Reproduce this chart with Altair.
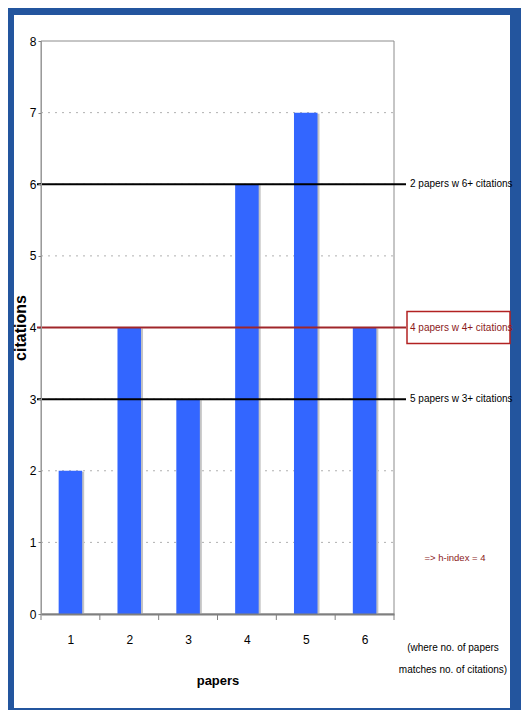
import altair as alt
import pandas as pd

# ---- data ----
papers = [1, 2, 3, 4, 5, 6]
citations = [2, 4, 3, 6, 7, 4]
y_ticks = [0, 1, 2, 3, 4, 5, 6, 7, 8]
grid_values = [1, 2, 3, 4, 5, 6, 7]
thresholds = [6, 4, 3]
threshold_labels = ["2 papers w 6+ citations", "4 papers w 4+ citations", "5 papers w 3+ citations"]
h_index = 4
note_text = "=> h-index = 4"
note_lines = "(where no. of papers\nmatches no. of citations)"

W, H = 353, 573
FONT = "Liberation Sans, Arial, sans-serif"
BLUE_FRAME = "#23559e"
BAR = "#3366ff"
RED = "#a0262a"

bars_df = pd.DataFrame({"paper": papers, "citations": citations})
grid_df = pd.DataFrame({"citations": grid_values})
thr_df = pd.DataFrame({"citations": thresholds, "label": threshold_labels})
bounds_df = pd.DataFrame({"b": [p - 0.5 for p in papers] + [papers[-1] + 0.5]})
one = pd.DataFrame({"k": [0]})

x_scale = alt.Scale(domain=[papers[0] - 0.5, papers[-1] + 0.5], nice=False, zero=False)
y_scale = alt.Scale(domain=[y_ticks[0], y_ticks[-1]], nice=False)

x_axis = alt.Axis(values=papers, ticks=False, grid=False, domainColor="#7f7f7f", domainWidth=2,
                  labelFont=FONT, labelFontSize=12, labelColor="black", labelPadding=20, labelFlush=False,
                  title="papers", titleFont=FONT, titleFontSize=13, titleFontWeight="bold",
                  titleColor="black", titleY=66, titleBaseline="middle", zindex=1)
y_axis = alt.Axis(values=y_ticks, grid=False, tickSize=3, tickColor="#7f7f7f", domainColor="#9a9a9a",
                  labelFont=FONT, labelFontSize=12, labelColor="black", labelPadding=2,
                  title="citations", titleFont=FONT, titleFontSize=16,
                  titleFontWeight="bold", titleColor="black", titleAngle=270, titleX=-21, titleY=H / 2,
                  titleBaseline="middle", zindex=1)

# white inner panel of the blue frame
panel = alt.Chart(one).mark_rect(color="white").encode(
    x=alt.value(-27), x2=alt.value(469), y=alt.value(-26), y2=alt.value(667))

grid = alt.Chart(grid_df).mark_rule(color="#b0b0b0", strokeWidth=1, strokeDash=[2, 5]).encode(
    y=alt.Y("citations:Q", scale=y_scale, axis=y_axis), x=alt.value(0), x2=alt.value(W))

frame = alt.Chart(one).mark_rect(fill="transparent", stroke="#8c8c8c", strokeWidth=1).encode(
    x=alt.value(0), x2=alt.value(W), y=alt.value(0), y2=alt.value(H))

base_bars = alt.Chart(bars_df).transform_calculate(
    x0="datum.paper - 0.2", x1="datum.paper + 0.2")

shadow = base_bars.mark_bar(color="#c4c4c4", xOffset=2, x2Offset=2, yOffset=1).encode(
    x=alt.X("x0:Q", scale=x_scale, axis=x_axis), x2="x1:Q",
    y=alt.Y("citations:Q", scale=y_scale, axis=y_axis), y2=alt.datum(0))

bars = base_bars.mark_bar(color=BAR).encode(
    x=alt.X("x0:Q", scale=x_scale, axis=x_axis), x2="x1:Q",
    y=alt.Y("citations:Q", scale=y_scale, axis=y_axis), y2=alt.datum(0))

xticks = alt.Chart(bounds_df).mark_rule(color="#7f7f7f", strokeWidth=1).encode(
    x=alt.X("b:Q", scale=x_scale, axis=x_axis), y=alt.value(H), y2=alt.value(H + 6))

is_h = alt.datum.citations == h_index

hlines = alt.Chart(thr_df).mark_rule(strokeWidth=2).encode(
    y=alt.Y("citations:Q", scale=y_scale, axis=y_axis), x=alt.value(-4), x2=alt.value(365),
    color=alt.condition(is_h, alt.value(RED), alt.value("black")))

box = alt.Chart(thr_df).transform_filter(is_h).mark_rect(
    fill="white", stroke="#b22222", strokeWidth=1.5, yOffset=-16, y2Offset=16).encode(
    y=alt.Y("citations:Q", scale=y_scale, axis=y_axis), y2="citations:Q",
    x=alt.value(366), x2=alt.value(469))

labels = alt.Chart(thr_df).mark_text(align="left", baseline="middle", font=FONT, fontSize=10).encode(
    y=alt.Y("citations:Q", scale=y_scale, axis=y_axis), x=alt.value(369), text="label:N",
    color=alt.condition(is_h, alt.value("#8b1a1a"), alt.value("black")))

note = alt.Chart(one).mark_text(align="center", baseline="middle", font=FONT, fontSize=9.5,
                                color="#8b1a1a", text=note_text).encode(
    x=alt.value(414), y=alt.value(517))

note2 = alt.Chart(one).mark_text(align="center", baseline="middle", font=FONT, fontSize=10,
                                 color="black", text=note_lines, lineBreak="\n", lineHeight=22).encode(
    x=alt.value(412), y=alt.value(607))

chart = alt.layer(panel, grid, frame, shadow, bars, xticks, hlines, box, labels, note, note2).properties(
    width=W, height=H,
    padding={"left": 33, "top": 33, "right": 127, "bottom": 96},
    autosize=alt.AutoSizeParams(type="none"),
    background=BLUE_FRAME,
).configure_view(stroke=None)

chart.save("out.html", embed_options={"renderer": "svg", "actions": False})
